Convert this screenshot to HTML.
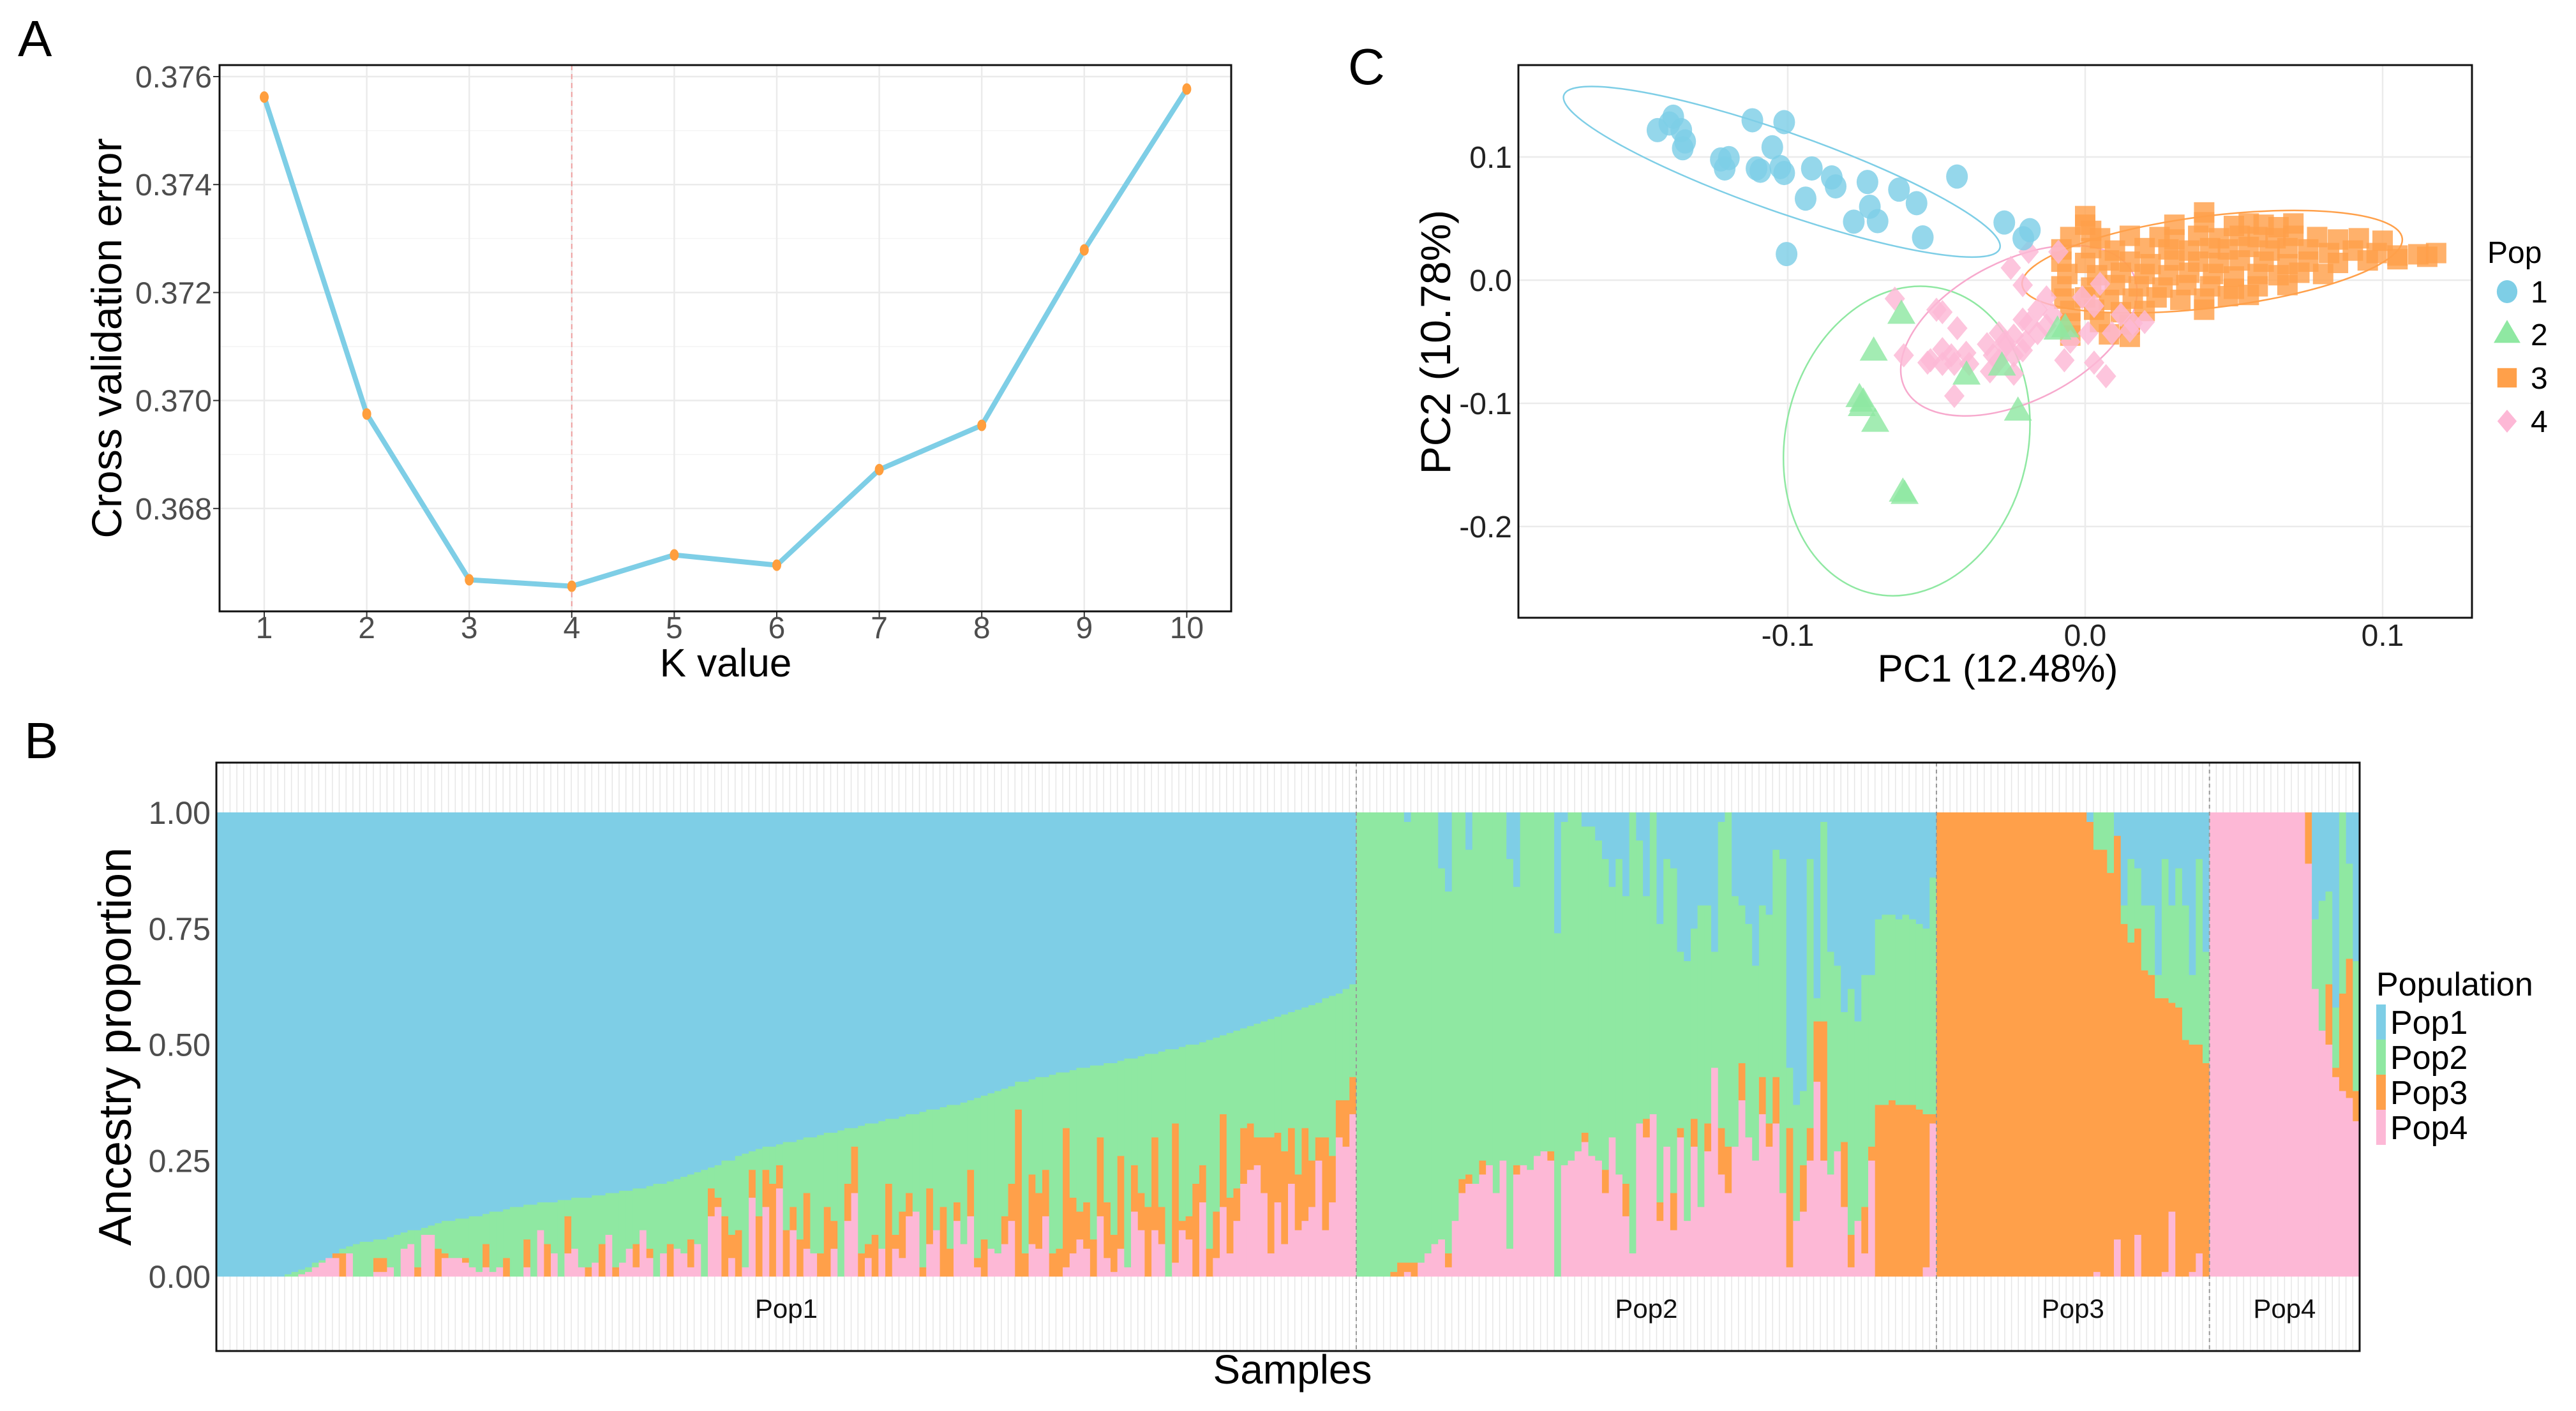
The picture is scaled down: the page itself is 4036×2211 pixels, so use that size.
<!DOCTYPE html>
<html><head><meta charset="utf-8"><style>
html,body{margin:0;padding:0;background:#fff;}
svg{display:block;font-family:"Liberation Sans",sans-serif;}
</style></head><body>
<svg id="fig" width="4036" height="2211" viewBox="0 0 4036 2211" xmlns="http://www.w3.org/2000/svg">
<rect x="0" y="0" width="4036" height="2211" fill="#fff"/>
<g id="panelA"></g>
<g id="panelC"></g>
<g id="panelB"></g>
</svg>
<script>
// ---------- Panel A data ----------
const kValues = [1,2,3,4,5,6,7,8,9,10];
const cvError = [0.37562,0.36975,0.36668,0.36656,0.36714,0.36695,0.36872,0.36954,0.37279,0.37577];
const aYTicks = [0.368,0.370,0.372,0.374,0.376];
const aYTickLabels = ["0.368","0.370","0.372","0.374","0.376"];
const bestK = 4;

// ---------- Panel C data ----------
const pop1Points = [[-0.1385,0.1327],[-0.1398,0.1272],[-0.1438,0.1218],[-0.1358,0.1218],[-0.1345,0.1126],[-0.1353,0.1071],[-0.1119,0.1298],[-0.1012,0.1283],[-0.1052,0.1079],[-0.1225,0.0980],[-0.1198,0.0991],[-0.1212,0.0907],[-0.1105,0.0907],[-0.1025,0.0918],[-0.1012,0.0870],[-0.0919,0.0907],[-0.0852,0.0834],[-0.0839,0.0761],[-0.0732,0.0797],[-0.0626,0.0735],[-0.0567,0.0625],[-0.0724,0.0596],[-0.0698,0.0479],[-0.0778,0.0475],[-0.0940,0.0662],[-0.0546,0.0347],[-0.0431,0.0841],[-0.0272,0.0468],[-0.0186,0.0406],[-0.0208,0.0340],[-0.1004,0.0212],[-0.1092,0.0888]];
const pop2Points = [[-0.0618,-0.0282],[-0.0711,-0.0581],[-0.0759,-0.0958],[-0.0751,-0.1031],[-0.0706,-0.1159],[-0.0613,-0.1726],[-0.0607,-0.1744],[-0.0226,-0.1068],[-0.0399,-0.0775],[-0.0280,-0.0702],[-0.0093,-0.0410],[-0.0067,-0.0391],[-0.0746,-0.0995]];
const pop3Points = [[0.000,0.045],[0.002,0.040],[0.030,0.045],[0.040,0.047],[0.050,0.044],[0.055,0.046],[0.060,0.045],[0.065,0.043],[0.070,0.046],[0.000,0.052],[0.040,0.055],
[-0.005,0.035],[0.005,0.034],[0.015,0.036],[0.025,0.035],[0.030,0.033],[0.038,0.036],[0.045,0.034],[0.052,0.036],[0.058,0.035],[0.064,0.034],[0.070,0.036],[0.078,0.035],[0.085,0.033],[0.092,0.034],[0.100,0.032],
[-0.008,0.025],[0.002,0.026],[0.010,0.024],[0.020,0.026],[0.028,0.025],[0.035,0.024],[0.042,0.026],[0.048,0.025],[0.055,0.027],[0.062,0.024],[0.068,0.026],[0.075,0.025],[0.082,0.022],[0.090,0.024],[0.098,0.022],[0.105,0.020],[0.112,0.021],[0.118,0.022],
[-0.008,0.015],[0.000,0.014],[0.008,0.016],[0.015,0.015],[0.022,0.013],[0.030,0.016],[0.038,0.015],[0.045,0.014],[0.052,0.016],[0.060,0.015],[0.068,0.013],[0.075,0.015],[0.085,0.014],[0.095,0.016],[0.105,0.017],[0.115,0.019],
[-0.006,0.005],[0.004,0.004],[0.012,0.006],[0.020,0.005],[0.028,0.004],[0.035,0.006],[0.043,0.005],[0.050,0.003],[0.058,0.005],[0.065,0.004],[0.072,0.006],[0.080,0.005],
[-0.008,-0.005],[0.002,-0.006],[0.010,-0.004],[0.018,-0.005],[0.026,-0.006],[0.034,-0.004],[0.042,-0.005],[0.050,-0.007],[0.058,-0.005],[0.068,-0.004],
[-0.007,-0.015],[0.000,-0.014],[0.008,-0.016],[0.016,-0.015],[0.024,-0.014],[0.032,-0.016],[0.040,-0.015],[0.048,-0.013],[0.055,-0.012],
[-0.005,-0.025],[0.003,-0.024],[0.012,-0.026],[0.020,-0.025],[0.040,-0.024],
[-0.005,-0.035],[0.005,-0.034],[0.015,-0.036],[-0.005,-0.045],[0.008,-0.044],[0.015,-0.046]];
const pop4Points = [[-0.064,-0.015],[-0.050,-0.024],[-0.048,-0.026],[-0.043,-0.039],[-0.061,-0.061],[-0.052,-0.065],[-0.048,-0.056],[-0.045,-0.061],[-0.040,-0.059],[-0.044,-0.068],[-0.053,-0.067],[-0.039,-0.068],[-0.033,-0.052],[-0.029,-0.043],[-0.027,-0.050],[-0.024,-0.061],[-0.032,-0.074],[-0.024,-0.076],[-0.029,-0.065],[-0.021,-0.057],[-0.024,-0.045],[-0.019,-0.035],[-0.016,-0.024],[-0.021,-0.004],[-0.025,0.010],[-0.019,0.023],[-0.013,-0.014],[-0.011,-0.028],[-0.007,-0.065],[0.001,-0.043],[0.003,-0.067],[0.007,-0.078],[0.012,-0.028],[0.016,-0.035],[0.020,-0.034],[0.009,-0.043],[0.015,-0.041],[0.005,-0.003],[0.003,-0.021],[-0.001,-0.014],[-0.009,0.023],[-0.044,-0.094],[-0.027,-0.054],[-0.031,-0.061],[-0.021,-0.032],[-0.016,-0.043],[-0.020,-0.050],[-0.013,-0.037],[-0.005,-0.050],[-0.048,-0.068]];
const ellipseCenters = [[-0.1020,0.0880],[-0.0600,-0.1306],[-0.0223,-0.0410],[0.0427,0.0150]];
const cXTicks = [-0.1,0.0,0.1];
const cXTickLabels = ["-0.1","0.0","0.1"];
const cYTicks = [0.1,0.0,-0.1,-0.2];
const cYTickLabels = ["0.1","0.0","-0.1","-0.2"];
const popLabels = ["1","2","3","4"];

// ---------- Panel B data ----------
const groupNames = ["Pop1","Pop2","Pop3","Pop4"];
const p1Total = [0,0,0,0,0,0,0,0,0,0,
0.005,0.01,0.015,0.02,0.03,0.035,
0.04,0.05,0.06,0.065,0.07,0.075,
0.075,0.08,0.08,0.085,0.09,0.095,0.1,0.1,0.105,0.11,0.115,0.12,
0.12,0.125,0.125,0.13,0.13,0.135,0.14,0.14,0.145,0.15,0.15,0.155,0.155,0.16,0.16,0.16,0.165,0.165,0.17,0.17,0.17,0.175,0.175,
0.18,0.18,0.185,0.185,0.19,0.19,0.195,0.2,0.2,0.205,0.21,0.215,0.22,0.225,0.23,0.235,0.24,0.25,
0.25,0.26,0.265,0.27,0.275,0.28,0.28,0.285,0.29,0.29,0.295,0.3,0.3,0.305,0.31,0.31,0.315,0.32,0.32,
0.325,0.33,0.33,0.335,0.34,0.34,0.345,0.35,0.35,0.355,0.36,0.36,0.365,0.37,0.37,0.375,0.38,0.385,0.39,0.395,0.4,0.405,0.41,
0.42,0.42,0.425,0.43,0.43,0.435,0.44,0.44,0.445,0.45,0.45,0.455,0.455,0.46,0.46,
0.465,0.47,0.47,0.475,0.48,0.48,0.485,0.49,0.49,0.495,0.5,0.5,0.505,
0.51,0.515,0.52,0.525,0.53,0.535,0.54,0.545,0.55,0.555,0.56,0.565,
0.57,0.575,0.58,0.585,0.59,0.6,0.605,0.61,0.62,0.63];
const p1Pink = [0,0,0,0,0,0,0,0,0,0,0,0,0.005,0.01,0.02,0.03,
0.04,0.04,0,0.05,0,0,0,0.01,0.01,0.02,0,0.06,0.07,0,0.09,0.09,0,0.04,
0.04,0.04,0.03,0.02,0.01,0.02,0.01,0.02,0,0,0,0.02,0,0.1,0,0.05,0,0.05,0.06,0.02,0,0.03,0,
0.09,0,0.03,0.06,0.02,0.1,0.04,0,0.05,0,0.06,0.05,0.02,0.07,0,0.13,0.15,0,
0.04,0,0.02,0.17,0,0.15,0,0.19,0,0.1,0,0.06,0.05,0,0,0.06,0,0.12,0.18,
0,0.04,0,0.06,0,0.06,0.04,0.13,0.14,0,0.07,0.1,0,0,0.12,0.07,0.13,0.02,0,0.06,0.05,0.07,0.12,
0,0,0.07,0.06,0.13,0,0,0.02,0.05,0.08,0.06,0,0.13,0.04,0.01,
0.06,0.02,0.14,0.1,0,0.1,0.07,0,0.03,0.1,0.08,0,0.16,
0,0.04,0.15,0.05,0.12,0.2,0.23,0.24,0.18,0.05,0.16,0.07,
0.2,0.1,0.12,0.15,0.25,0.1,0.16,0.3,0.28,0.35];
const p1Orange = [0,0,0,0,0,0,0,0,0,0,0,0,0,0,0,0,
0.02,0.01,0.05,0,0,0,0,0.03,0.03,0,0,0,0,0.02,0,0,0.06,0.01,
0,0,0.01,0,0,0.05,0,0,0.04,0,0,0.06,0,0,0.07,0,0,0.08,0,0,0.02,0,0.07,
0,0.02,0,0,0.05,0,0.02,0,0,0.07,0,0,0.06,0,0,0.06,0.02,0.13,
0.05,0.1,0,0.06,0.13,0.08,0.2,0.05,0.1,0.05,0.08,0.12,0,0.05,0.15,0.06,0,0.08,0.1,
0.05,0.03,0.09,0,0.2,0.03,0.1,0.05,0,0.02,0.12,0,0.15,0.06,0.04,0,0.1,0.02,0.08,0,0,0.06,0.08,
0.36,0.05,0.15,0.12,0.1,0.05,0.06,0.3,0.12,0.06,0.1,0.08,0.17,0.12,0.08,
0.2,0,0.1,0.08,0.15,0.2,0.08,0,0.3,0.02,0.05,0.2,0.08,
0.06,0.1,0.2,0.12,0.07,0.12,0.1,0.06,0.12,0.25,0.15,0.2,
0.12,0.12,0.2,0.1,0.05,0.2,0.1,0.08,0.1,0.08];
const p2Blue = [0,0,0,0,0,0,0,0.02,0,0,
0,0,0.12,0.17,0,0,0.08,0,0,0,
0,0,0.1,0.16,0,0,0,0,0,0.26,
0.02,0,0,0.03,0.03,0.06,0.1,0.16,0.1,0.18,
0,0.06,0.18,0,0.24,0.1,0.12,0.3,0.32,0.25,
0.2,0.2,0.3,0.02,0,0.18,0.2,0.24,0.33,0.2,
0.22,0.08,0.1,0.55,0.63,0.6,0.1,0.4,0.02,0.3,
0.33,0.43,0.38,0.45,0.35,0.35,0.23,0.22,0.22,0.23,
0.22,0.23,0.24,0.25,0.14];
const p2Pink = [0,0,0,0,0,0,0,0.01,0,0.03,
0.05,0.07,0.08,0.02,0.12,0.18,0.2,0.2,0.22,0.24,
0.18,0.25,0.06,0.22,0.24,0.23,0.26,0.27,0.25,0,
0.24,0.25,0.27,0.29,0.26,0.25,0.18,0.3,0.22,0.13,
0.05,0.33,0.3,0.35,0.12,0.28,0.1,0.3,0.12,0.28,
0.15,0.27,0.45,0.22,0.18,0.28,0.38,0.3,0.25,0.35,
0.28,0.33,0.18,0.02,0.12,0.14,0.25,0.42,0.25,0.22,
0.27,0.15,0.02,0.12,0.05,0.25,0,0,0,0,
0,0,0,0.02,0.33];
const p2Orange = [0,0,0,0,0,0.01,0.03,0.02,0.03,0,
0,0,0,0.03,0,0.03,0.02,0,0.03,0,
0,0,0,0.02,0,0,0,0,0.02,0,
0,0,0,0.02,0,0,0.05,0,0,0.07,
0,0,0.04,0,0.04,0,0.08,0.02,0,0.06,
0,0.06,0,0.1,0.1,0,0.08,0,0,0.08,
0.05,0.1,0,0.3,0,0.1,0.07,0.13,0.3,0,
0,0.14,0.07,0,0.1,0.03,0.37,0.37,0.38,0.37,
0.37,0.37,0.36,0.33,0.02];
const p3Pink = [0,0,0,0,0,0,0,0,0,0,0,0,0,0,0,0,0,0,0,0,0,0,
0,0.01,0,0,0.08,0,0,0.09,0,0,0,0.01,0.14,0,0,0.01,0.05,0];
const p3Orange = [1,1,1,1,1,1,1,1,1,1,1,1,1,1,1,1,1,1,1,1,1,1,
0.98,0.91,0.92,0.87,0.87,0.76,0.72,0.66,0.66,0.65,0.6,0.59,0.45,0.58,0.51,0.49,0.45,0.46];
const p3Blue = [0,0,0,0,0,0,0,0,0,0,0,0,0,0,0,0,0,0,0,0,0,0,
0.02,0,0,0,0.05,0.2,0.1,0.12,0.2,0.2,0.35,0.1,0.2,0.12,0.2,0.35,0.1,0.3];
const p4Pink = [1,1,1,1,1,1,1,1,1,1,1,1,1,1,0.89,0.62,0.53,0.50,0.43,0.40,0.385,0.335];
const p4Orange = [0,0,0,0,0,0,0,0,0,0,0,0,0,0,0.11,0,0,0.13,0.02,0.21,0.30,0.065];
const p4Blue = [0,0,0,0,0,0,0,0,0,0,0,0,0,0,0,0.23,0.19,0.17,0.42,0,0.11,0.32];
const bYTicks = [0,0.25,0.5,0.75,1];
const bYTickLabels = ["0.00","0.25","0.50","0.75","1.00"];

const NS = "http://www.w3.org/2000/svg";
const COL = {blue:"#7ecee6", green:"#8fe8a2", orange:"#ffa04a", pink:"#fdb8d6"};
function mk(parent, tag, attrs, text){
  const e = document.createElementNS(NS, tag);
  for (const k in attrs) e.setAttribute(k, attrs[k]);
  if (text !== undefined) e.textContent = text;
  parent.appendChild(e);
  return e;
}

// ================= Panel A =================
(function(){
  const g = document.getElementById('panelA');
  const L=344, R=1929, T=102, B=958;
  const xA = k => 414 + (k-1)*160.6;
  const yA = v => 627.6 - (v-0.370)/0.002*169.2;
  let t = mk(g,'text',{x:28,y:88,'font-size':80,fill:'#000'},'A');
   
  for (let i=0;i<aYTicks.length-1;i++){
    const l = mk(g,'line',{x1:L,x2:R,y1:yA((aYTicks[i]+aYTicks[i+1])/2),y2:yA((aYTicks[i]+aYTicks[i+1])/2),stroke:'#f4f4f4','stroke-width':1.5});
     
  }
  aYTicks.forEach((v,i)=>{
    const l = mk(g,'line',{x1:L,x2:R,y1:yA(v),y2:yA(v),stroke:'#ebebeb','stroke-width':2.5});
     
    const tk = mk(g,'line',{x1:L-10,x2:L,y1:yA(v),y2:yA(v),stroke:'#333','stroke-width':2});
     
    const tx = mk(g,'text',{x:L-12,y:yA(v)+17,'font-size':48,fill:'#4d4d4d','text-anchor':'end'},aYTickLabels[i]);
     
  });
  kValues.forEach(k=>{
    const l = mk(g,'line',{x1:xA(k),x2:xA(k),y1:T,y2:B,stroke:'#ebebeb','stroke-width':2.5});
     
    const tk = mk(g,'line',{x1:xA(k),x2:xA(k),y1:B,y2:B+10,stroke:'#333','stroke-width':2});
     
    const tx = mk(g,'text',{x:xA(k),y:1000,'font-size':48,fill:'#4d4d4d','text-anchor':'middle'},String(k));
     
  });
  const vl = mk(g,'line',{x1:xA(bestK),x2:xA(bestK),y1:T,y2:B,stroke:'#f0a0a0','stroke-width':2,'stroke-dasharray':'8,6'});
   
  const pts = kValues.map((k,i)=>xA(k)+','+yA(cvError[i])).join(' ');
  const pl = mk(g,'polyline',{points:pts,fill:'none',stroke:COL.blue,'stroke-width':8,'stroke-linejoin':'round'});
   
  kValues.forEach((k,i)=>{
    const c = mk(g,'ellipse',{cx:xA(k),cy:yA(cvError[i]),rx:7,ry:9,fill:'#ff9e3d'});
     
  });
  const box = mk(g,'rect',{x:L,y:T,width:R-L,height:B-T,fill:'none',stroke:'#111','stroke-width':3});
   
  const xl = mk(g,'text',{x:1137,y:1060,'font-size':62,fill:'#000','text-anchor':'middle'},'K value');
   
  const yl = mk(g,'text',{x:0,y:0,'font-size':66,fill:'#000','text-anchor':'middle',transform:'translate(190,530) rotate(-90)'},'Cross validation error');
   
})();

// ================= Panel C =================
(function(){
  const g = document.getElementById('panelC');
  const L=2379, R=3873, T=102, B=968;
  const xC = v => 3267 + v*4660;
  const yC = v => 439 - v*1930;
  let t = mk(g,'text',{x:2112,y:132,'font-size':80,fill:'#000'},'C');
   
  cXTicks.forEach((v,i)=>{
    const l = mk(g,'line',{x1:xC(v),x2:xC(v),y1:T,y2:B,stroke:'#ebebeb','stroke-width':2.5});
     
    const tx = mk(g,'text',{x:xC(v),y:1012,'font-size':48,fill:'#222','text-anchor':'middle'},cXTickLabels[i]);
     
  });
  cYTicks.forEach((v,i)=>{
    const l = mk(g,'line',{x1:L,x2:R,y1:yC(v),y2:yC(v),stroke:'#ebebeb','stroke-width':2.5});
     
    const tx = mk(g,'text',{x:L-10,y:yC(v)+17,'font-size':48,fill:'#222','text-anchor':'end'},cYTickLabels[i]);
     
  });
  const eStyle = [[362,62,19.4,COL.blue],[245,190,-77,COL.green],[200,110,-27,'#f7a9cd'],[300,72,-7,'#ffa04a']];
  const eNames = ['ellipse-pop1','ellipse-pop2','ellipse-pop4','ellipse-pop3'];
  ellipseCenters.forEach((c,i)=>{
    const s = eStyle[i];
    const e = mk(g,'ellipse',{cx:xC(c[0]),cy:yC(c[1]),rx:s[0],ry:s[1],fill:'none',stroke:s[3],'stroke-width':2.5,transform:`rotate(${s[2]} ${xC(c[0])} ${yC(c[1])})`});
     
  });
  function sym(parent,type,x,y,col,sc){
    sc = sc||1;
    let e;
    if (type===0) e = mk(parent,'ellipse',{cx:x,cy:y,rx:17*sc,ry:19*sc,fill:col,'fill-opacity':0.82});
    else if (type===1) e = mk(parent,'polygon',{points:`${x},${y-24*sc} ${x+22*sc},${y+14*sc} ${x-22*sc},${y+14*sc}`,fill:col,'fill-opacity':0.82});
    else if (type===2) e = mk(parent,'rect',{x:x-16*sc,y:y-16*sc,width:32*sc,height:32*sc,fill:col,'fill-opacity':0.82});
    else e = mk(parent,'polygon',{points:`${x},${y-19*sc} ${x+16*sc},${y} ${x},${y+19*sc} ${x-16*sc},${y}`,fill:col,'fill-opacity':0.82});
    return e;
  }
  pop3Points.forEach(p=>{ const e=sym(g,2,xC(p[0]),yC(p[1]),COL.orange);
      });
  pop4Points.forEach(p=>{ const e=sym(g,3,xC(p[0]),yC(p[1]),COL.pink);
      });
  pop2Points.forEach(p=>{ const e=sym(g,1,xC(p[0]),yC(p[1]),COL.green);
      });
  pop1Points.forEach(p=>{ const e=sym(g,0,xC(p[0]),yC(p[1]),COL.blue);
      });
  const box = mk(g,'rect',{x:L,y:T,width:R-L,height:B-T,fill:'none',stroke:'#111','stroke-width':3});
   
  const xl = mk(g,'text',{x:3130,y:1068,'font-size':60,fill:'#000','text-anchor':'middle'},'PC1 (12.48%)');
   
  const yl = mk(g,'text',{x:0,y:0,'font-size':66,fill:'#000','text-anchor':'middle',transform:'translate(2272,536) rotate(-90)'},'PC2 (10.78%)');
   
  const lg = mk(g,'g',{});
   
  const lt = mk(lg,'text',{x:3897,y:412,'font-size':48,fill:'#000'},'Pop');
   
  const cols=[COL.blue,COL.green,COL.orange,COL.pink], ys=[457,524,592,660];
  popLabels.forEach((lab,i)=>{
    const e = sym(lg,i,3928,ys[i],cols[i],0.95);
    e.setAttribute('fill-opacity',1);
     
    const tx = mk(lg,'text',{x:3965,y:ys[i]+17,'font-size':48,fill:'#000'},lab);
     
  });
})();

// ================= Panel B =================
(function(){
  const g = document.getElementById('panelB');
  const L=339, R=3697, T=1195, B=2117;
  const yB = v => 2000 - v*727;
  let t = mk(g,'text',{x:38,y:1188,'font-size':80,fill:'#000'},'B');
   
  const samples = [];
  const groupStart = [0];
  p1Total.forEach((tot,i)=>{ const pk=Math.min(p1Pink[i],tot); const or=Math.min(p1Orange[i],tot-pk);
    samples.push([pk,or,tot-pk-or,1-tot]); });
  groupStart.push(samples.length);
  p2Blue.forEach((bl,i)=>{ samples.push([p2Pink[i],p2Orange[i],Math.max(0,1-bl-p2Pink[i]-p2Orange[i]),bl]); });
  groupStart.push(samples.length);
  p3Orange.forEach((or,i)=>{ samples.push([p3Pink[i],or,Math.max(0,1-or-p3Pink[i]-p3Blue[i]),p3Blue[i]]); });
  groupStart.push(samples.length);
  p4Pink.forEach((pk,i)=>{ samples.push([pk,p4Orange[i],Math.max(0,1-pk-p4Orange[i]-p4Blue[i]),p4Blue[i]]); });
  groupStart.push(samples.length);
  const N = samples.length;
  const bw = (R-L)/N;
  for (let i=0;i<=N;i++){
    const l = mk(g,'line',{x1:L+i*bw,x2:L+i*bw,y1:T,y2:B,stroke:'#e6e6e6','stroke-width':1.5});
     
  }
  const order=[COL.pink,COL.orange,COL.green,COL.blue];
  const segNames=['bar-pop4-share','bar-pop3-share','bar-pop2-share','bar-pop1-share'];
  samples.forEach((s,i)=>{
    let cum=0;
    s.forEach((v,j)=>{
      if (v<=0) return;
      const r = mk(g,'rect',{x:L+i*bw,y:yB(cum+v),width:bw+0.6,height:v*727+0.4,fill:order[j]});
       
      cum+=v;
    });
  });
  for (let k=1;k<groupStart.length-1;k++){
    const x = L+groupStart[k]*bw;
    const l = mk(g,'line',{x1:x,x2:x,y1:T,y2:B,stroke:'#999','stroke-width':2,'stroke-dasharray':'6,5'});
     
  }
  groupNames.forEach((n,k)=>{
    const cx = L+(groupStart[k]+groupStart[k+1])/2*bw;
    const tx = mk(g,'text',{x:cx,y:2065,'font-size':42,fill:'#111','text-anchor':'middle'},n);
     
  });
  bYTicks.forEach((v,i)=>{
    const tx = mk(g,'text',{x:330,y:yB(v)+18,'font-size':50,fill:'#4d4d4d','text-anchor':'end'},bYTickLabels[i]);
     
  });
  const box = mk(g,'rect',{x:L,y:T,width:R-L,height:B-T,fill:'none',stroke:'#111','stroke-width':3});
   
  const xl = mk(g,'text',{x:2025,y:2168,'font-size':64,fill:'#000','text-anchor':'middle'},'Samples');
   
  const yl = mk(g,'text',{x:0,y:0,'font-size':72,fill:'#000','text-anchor':'middle',transform:'translate(205,1640) rotate(-90)'},'Ancestry proportion');
   
  const lg = mk(g,'g',{});
   
  const lt = mk(lg,'text',{x:3723,y:1560,'font-size':52,fill:'#000'},'Population');
   
  const lc=[COL.blue,COL.green,COL.orange,COL.pink];
  groupNames.forEach((n,i)=>{
    const y0 = 1574 + i*55;
    const r = mk(lg,'rect',{x:3723,y:y0,width:15,height:55,fill:lc[i]});
     
    const tx = mk(lg,'text',{x:3745,y:y0+46,'font-size':52,fill:'#000'},n);
     
  });
})();
</script>
</body></html>
